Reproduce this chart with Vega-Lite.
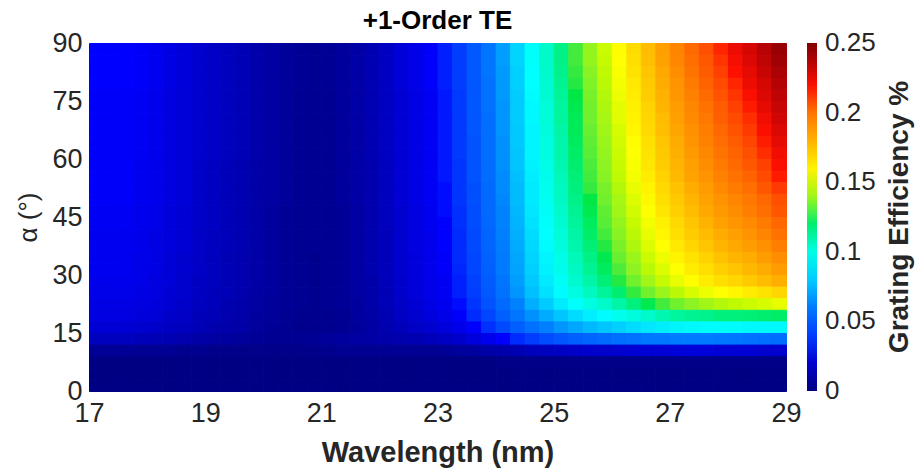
{
"$schema": "https://vega.github.io/schema/vega-lite/v6.json",
"width": 697, "height": 348,
"autosize": {"type": "none"},
"padding": {"left": 89, "top": 43, "right": 130, "bottom": 85},
"background": "white",
"title": {"text": "+1-Order TE", "font": "Liberation Sans", "fontSize": 26, "fontWeight": "bold", "color": "#000000", "offset": -5, "anchor": "middle"},
"config": {
  "view": {"stroke": null},
  "axis": {"labelFont": "Liberation Sans", "labelFontSize": 27, "labelColor": "#262626", "titleFont": "Liberation Sans", "titleFontSize": 29, "titleFontWeight": "bold", "titleColor": "#262626", "ticks": false, "domain": false, "grid": false, "labelFlush": false, "labelOverlap": false}
},
"data": {"values": [
{"w":17.125,"a":88.5,"e":0.031},{"w":17.375,"a":88.5,"e":0.031},{"w":17.625,"a":88.5,"e":0.031},{"w":17.875,"a":88.5,"e":0.030},{"w":18.125,"a":88.5,"e":0.028},{"w":18.375,"a":88.5,"e":0.025},{"w":18.625,"a":88.5,"e":0.023},{"w":18.875,"a":88.5,"e":0.020},{"w":19.125,"a":88.5,"e":0.018},{"w":19.375,"a":88.5,"e":0.016},{"w":19.625,"a":88.5,"e":0.014},{"w":19.875,"a":88.5,"e":0.011},{"w":20.125,"a":88.5,"e":0.009},{"w":20.375,"a":88.5,"e":0.007},{"w":20.625,"a":88.5,"e":0.006},{"w":20.875,"a":88.5,"e":0.005},{"w":21.125,"a":88.5,"e":0.006},{"w":21.375,"a":88.5,"e":0.007},{"w":21.625,"a":88.5,"e":0.010},{"w":21.875,"a":88.5,"e":0.013},{"w":22.125,"a":88.5,"e":0.017},{"w":22.375,"a":88.5,"e":0.022},{"w":22.625,"a":88.5,"e":0.026},{"w":22.875,"a":88.5,"e":0.030},
{"w":23.125,"a":88.5,"e":0.034},{"w":23.375,"a":88.5,"e":0.040},{"w":23.625,"a":88.5,"e":0.048},{"w":23.875,"a":88.5,"e":0.058},{"w":24.125,"a":88.5,"e":0.069},{"w":24.375,"a":88.5,"e":0.082},{"w":24.625,"a":88.5,"e":0.095},{"w":24.875,"a":88.5,"e":0.106},{"w":25.125,"a":88.5,"e":0.117},{"w":25.375,"a":88.5,"e":0.128},{"w":25.625,"a":88.5,"e":0.138},{"w":25.875,"a":88.5,"e":0.147},{"w":26.125,"a":88.5,"e":0.157},{"w":26.375,"a":88.5,"e":0.167},{"w":26.625,"a":88.5,"e":0.177},{"w":26.875,"a":88.5,"e":0.186},{"w":27.125,"a":88.5,"e":0.195},{"w":27.375,"a":88.5,"e":0.203},{"w":27.625,"a":88.5,"e":0.210},{"w":27.875,"a":88.5,"e":0.217},{"w":28.125,"a":88.5,"e":0.223},{"w":28.375,"a":88.5,"e":0.229},{"w":28.625,"a":88.5,"e":0.236},{"w":28.875,"a":88.5,"e":0.244},
{"w":17.125,"a":85.5,"e":0.031},{"w":17.375,"a":85.5,"e":0.031},{"w":17.625,"a":85.5,"e":0.031},{"w":17.875,"a":85.5,"e":0.030},{"w":18.125,"a":85.5,"e":0.028},{"w":18.375,"a":85.5,"e":0.025},{"w":18.625,"a":85.5,"e":0.023},{"w":18.875,"a":85.5,"e":0.020},{"w":19.125,"a":85.5,"e":0.018},{"w":19.375,"a":85.5,"e":0.016},{"w":19.625,"a":85.5,"e":0.014},{"w":19.875,"a":85.5,"e":0.011},{"w":20.125,"a":85.5,"e":0.009},{"w":20.375,"a":85.5,"e":0.007},{"w":20.625,"a":85.5,"e":0.006},{"w":20.875,"a":85.5,"e":0.005},{"w":21.125,"a":85.5,"e":0.006},{"w":21.375,"a":85.5,"e":0.007},{"w":21.625,"a":85.5,"e":0.010},{"w":21.875,"a":85.5,"e":0.013},{"w":22.125,"a":85.5,"e":0.017},{"w":22.375,"a":85.5,"e":0.022},{"w":22.625,"a":85.5,"e":0.026},{"w":22.875,"a":85.5,"e":0.030},
{"w":23.125,"a":85.5,"e":0.034},{"w":23.375,"a":85.5,"e":0.040},{"w":23.625,"a":85.5,"e":0.048},{"w":23.875,"a":85.5,"e":0.058},{"w":24.125,"a":85.5,"e":0.069},{"w":24.375,"a":85.5,"e":0.082},{"w":24.625,"a":85.5,"e":0.095},{"w":24.875,"a":85.5,"e":0.106},{"w":25.125,"a":85.5,"e":0.117},{"w":25.375,"a":85.5,"e":0.128},{"w":25.625,"a":85.5,"e":0.138},{"w":25.875,"a":85.5,"e":0.146},{"w":26.125,"a":85.5,"e":0.156},{"w":26.375,"a":85.5,"e":0.166},{"w":26.625,"a":85.5,"e":0.176},{"w":26.875,"a":85.5,"e":0.185},{"w":27.125,"a":85.5,"e":0.194},{"w":27.375,"a":85.5,"e":0.202},{"w":27.625,"a":85.5,"e":0.208},{"w":27.875,"a":85.5,"e":0.215},{"w":28.125,"a":85.5,"e":0.221},{"w":28.375,"a":85.5,"e":0.227},{"w":28.625,"a":85.5,"e":0.234},{"w":28.875,"a":85.5,"e":0.242},
{"w":17.125,"a":82.5,"e":0.031},{"w":17.375,"a":82.5,"e":0.031},{"w":17.625,"a":82.5,"e":0.031},{"w":17.875,"a":82.5,"e":0.030},{"w":18.125,"a":82.5,"e":0.028},{"w":18.375,"a":82.5,"e":0.025},{"w":18.625,"a":82.5,"e":0.023},{"w":18.875,"a":82.5,"e":0.020},{"w":19.125,"a":82.5,"e":0.018},{"w":19.375,"a":82.5,"e":0.016},{"w":19.625,"a":82.5,"e":0.014},{"w":19.875,"a":82.5,"e":0.011},{"w":20.125,"a":82.5,"e":0.009},{"w":20.375,"a":82.5,"e":0.007},{"w":20.625,"a":82.5,"e":0.006},{"w":20.875,"a":82.5,"e":0.005},{"w":21.125,"a":82.5,"e":0.006},{"w":21.375,"a":82.5,"e":0.007},{"w":21.625,"a":82.5,"e":0.010},{"w":21.875,"a":82.5,"e":0.013},{"w":22.125,"a":82.5,"e":0.017},{"w":22.375,"a":82.5,"e":0.022},{"w":22.625,"a":82.5,"e":0.026},{"w":22.875,"a":82.5,"e":0.030},
{"w":23.125,"a":82.5,"e":0.034},{"w":23.375,"a":82.5,"e":0.040},{"w":23.625,"a":82.5,"e":0.048},{"w":23.875,"a":82.5,"e":0.058},{"w":24.125,"a":82.5,"e":0.068},{"w":24.375,"a":82.5,"e":0.081},{"w":24.625,"a":82.5,"e":0.094},{"w":24.875,"a":82.5,"e":0.105},{"w":25.125,"a":82.5,"e":0.116},{"w":25.375,"a":82.5,"e":0.127},{"w":25.625,"a":82.5,"e":0.136},{"w":25.875,"a":82.5,"e":0.145},{"w":26.125,"a":82.5,"e":0.155},{"w":26.375,"a":82.5,"e":0.165},{"w":26.625,"a":82.5,"e":0.174},{"w":26.875,"a":82.5,"e":0.183},{"w":27.125,"a":82.5,"e":0.192},{"w":27.375,"a":82.5,"e":0.200},{"w":27.625,"a":82.5,"e":0.207},{"w":27.875,"a":82.5,"e":0.213},{"w":28.125,"a":82.5,"e":0.219},{"w":28.375,"a":82.5,"e":0.225},{"w":28.625,"a":82.5,"e":0.232},{"w":28.875,"a":82.5,"e":0.239},
{"w":17.125,"a":79.5,"e":0.031},{"w":17.375,"a":79.5,"e":0.031},{"w":17.625,"a":79.5,"e":0.031},{"w":17.875,"a":79.5,"e":0.030},{"w":18.125,"a":79.5,"e":0.028},{"w":18.375,"a":79.5,"e":0.025},{"w":18.625,"a":79.5,"e":0.023},{"w":18.875,"a":79.5,"e":0.020},{"w":19.125,"a":79.5,"e":0.018},{"w":19.375,"a":79.5,"e":0.016},{"w":19.625,"a":79.5,"e":0.014},{"w":19.875,"a":79.5,"e":0.011},{"w":20.125,"a":79.5,"e":0.009},{"w":20.375,"a":79.5,"e":0.007},{"w":20.625,"a":79.5,"e":0.006},{"w":20.875,"a":79.5,"e":0.005},{"w":21.125,"a":79.5,"e":0.006},{"w":21.375,"a":79.5,"e":0.007},{"w":21.625,"a":79.5,"e":0.010},{"w":21.875,"a":79.5,"e":0.013},{"w":22.125,"a":79.5,"e":0.017},{"w":22.375,"a":79.5,"e":0.022},{"w":22.625,"a":79.5,"e":0.026},{"w":22.875,"a":79.5,"e":0.030},
{"w":23.125,"a":79.5,"e":0.034},{"w":23.375,"a":79.5,"e":0.040},{"w":23.625,"a":79.5,"e":0.047},{"w":23.875,"a":79.5,"e":0.057},{"w":24.125,"a":79.5,"e":0.068},{"w":24.375,"a":79.5,"e":0.081},{"w":24.625,"a":79.5,"e":0.094},{"w":24.875,"a":79.5,"e":0.104},{"w":25.125,"a":79.5,"e":0.115},{"w":25.375,"a":79.5,"e":0.126},{"w":25.625,"a":79.5,"e":0.135},{"w":25.875,"a":79.5,"e":0.144},{"w":26.125,"a":79.5,"e":0.154},{"w":26.375,"a":79.5,"e":0.163},{"w":26.625,"a":79.5,"e":0.173},{"w":26.875,"a":79.5,"e":0.182},{"w":27.125,"a":79.5,"e":0.190},{"w":27.375,"a":79.5,"e":0.198},{"w":27.625,"a":79.5,"e":0.205},{"w":27.875,"a":79.5,"e":0.211},{"w":28.125,"a":79.5,"e":0.217},{"w":28.375,"a":79.5,"e":0.223},{"w":28.625,"a":79.5,"e":0.229},{"w":28.875,"a":79.5,"e":0.237},
{"w":17.125,"a":76.5,"e":0.030},{"w":17.375,"a":76.5,"e":0.030},{"w":17.625,"a":76.5,"e":0.030},{"w":17.875,"a":76.5,"e":0.029},{"w":18.125,"a":76.5,"e":0.027},{"w":18.375,"a":76.5,"e":0.024},{"w":18.625,"a":76.5,"e":0.022},{"w":18.875,"a":76.5,"e":0.020},{"w":19.125,"a":76.5,"e":0.018},{"w":19.375,"a":76.5,"e":0.016},{"w":19.625,"a":76.5,"e":0.014},{"w":19.875,"a":76.5,"e":0.011},{"w":20.125,"a":76.5,"e":0.009},{"w":20.375,"a":76.5,"e":0.007},{"w":20.625,"a":76.5,"e":0.005},{"w":20.875,"a":76.5,"e":0.005},{"w":21.125,"a":76.5,"e":0.005},{"w":21.375,"a":76.5,"e":0.007},{"w":21.625,"a":76.5,"e":0.010},{"w":21.875,"a":76.5,"e":0.013},{"w":22.125,"a":76.5,"e":0.017},{"w":22.375,"a":76.5,"e":0.021},{"w":22.625,"a":76.5,"e":0.025},{"w":22.875,"a":76.5,"e":0.029},
{"w":23.125,"a":76.5,"e":0.033},{"w":23.375,"a":76.5,"e":0.039},{"w":23.625,"a":76.5,"e":0.047},{"w":23.875,"a":76.5,"e":0.057},{"w":24.125,"a":76.5,"e":0.068},{"w":24.375,"a":76.5,"e":0.080},{"w":24.625,"a":76.5,"e":0.093},{"w":24.875,"a":76.5,"e":0.104},{"w":25.125,"a":76.5,"e":0.114},{"w":25.375,"a":76.5,"e":0.125},{"w":25.625,"a":76.5,"e":0.134},{"w":25.875,"a":76.5,"e":0.143},{"w":26.125,"a":76.5,"e":0.153},{"w":26.375,"a":76.5,"e":0.162},{"w":26.625,"a":76.5,"e":0.172},{"w":26.875,"a":76.5,"e":0.180},{"w":27.125,"a":76.5,"e":0.189},{"w":27.375,"a":76.5,"e":0.196},{"w":27.625,"a":76.5,"e":0.203},{"w":27.875,"a":76.5,"e":0.209},{"w":28.125,"a":76.5,"e":0.215},{"w":28.375,"a":76.5,"e":0.220},{"w":28.625,"a":76.5,"e":0.227},{"w":28.875,"a":76.5,"e":0.234},
{"w":17.125,"a":73.5,"e":0.030},{"w":17.375,"a":73.5,"e":0.030},{"w":17.625,"a":73.5,"e":0.030},{"w":17.875,"a":73.5,"e":0.029},{"w":18.125,"a":73.5,"e":0.027},{"w":18.375,"a":73.5,"e":0.024},{"w":18.625,"a":73.5,"e":0.022},{"w":18.875,"a":73.5,"e":0.020},{"w":19.125,"a":73.5,"e":0.018},{"w":19.375,"a":73.5,"e":0.016},{"w":19.625,"a":73.5,"e":0.014},{"w":19.875,"a":73.5,"e":0.011},{"w":20.125,"a":73.5,"e":0.009},{"w":20.375,"a":73.5,"e":0.007},{"w":20.625,"a":73.5,"e":0.005},{"w":20.875,"a":73.5,"e":0.005},{"w":21.125,"a":73.5,"e":0.005},{"w":21.375,"a":73.5,"e":0.007},{"w":21.625,"a":73.5,"e":0.010},{"w":21.875,"a":73.5,"e":0.013},{"w":22.125,"a":73.5,"e":0.017},{"w":22.375,"a":73.5,"e":0.021},{"w":22.625,"a":73.5,"e":0.025},{"w":22.875,"a":73.5,"e":0.029},
{"w":23.125,"a":73.5,"e":0.033},{"w":23.375,"a":73.5,"e":0.039},{"w":23.625,"a":73.5,"e":0.047},{"w":23.875,"a":73.5,"e":0.057},{"w":24.125,"a":73.5,"e":0.067},{"w":24.375,"a":73.5,"e":0.080},{"w":24.625,"a":73.5,"e":0.092},{"w":24.875,"a":73.5,"e":0.103},{"w":25.125,"a":73.5,"e":0.113},{"w":25.375,"a":73.5,"e":0.124},{"w":25.625,"a":73.5,"e":0.133},{"w":25.875,"a":73.5,"e":0.142},{"w":26.125,"a":73.5,"e":0.151},{"w":26.375,"a":73.5,"e":0.161},{"w":26.625,"a":73.5,"e":0.170},{"w":26.875,"a":73.5,"e":0.179},{"w":27.125,"a":73.5,"e":0.187},{"w":27.375,"a":73.5,"e":0.194},{"w":27.625,"a":73.5,"e":0.201},{"w":27.875,"a":73.5,"e":0.207},{"w":28.125,"a":73.5,"e":0.213},{"w":28.375,"a":73.5,"e":0.218},{"w":28.625,"a":73.5,"e":0.225},{"w":28.875,"a":73.5,"e":0.232},
{"w":17.125,"a":70.5,"e":0.030},{"w":17.375,"a":70.5,"e":0.030},{"w":17.625,"a":70.5,"e":0.030},{"w":17.875,"a":70.5,"e":0.029},{"w":18.125,"a":70.5,"e":0.027},{"w":18.375,"a":70.5,"e":0.024},{"w":18.625,"a":70.5,"e":0.022},{"w":18.875,"a":70.5,"e":0.020},{"w":19.125,"a":70.5,"e":0.018},{"w":19.375,"a":70.5,"e":0.016},{"w":19.625,"a":70.5,"e":0.014},{"w":19.875,"a":70.5,"e":0.011},{"w":20.125,"a":70.5,"e":0.009},{"w":20.375,"a":70.5,"e":0.007},{"w":20.625,"a":70.5,"e":0.005},{"w":20.875,"a":70.5,"e":0.005},{"w":21.125,"a":70.5,"e":0.005},{"w":21.375,"a":70.5,"e":0.007},{"w":21.625,"a":70.5,"e":0.010},{"w":21.875,"a":70.5,"e":0.013},{"w":22.125,"a":70.5,"e":0.017},{"w":22.375,"a":70.5,"e":0.021},{"w":22.625,"a":70.5,"e":0.025},{"w":22.875,"a":70.5,"e":0.029},
{"w":23.125,"a":70.5,"e":0.033},{"w":23.375,"a":70.5,"e":0.039},{"w":23.625,"a":70.5,"e":0.047},{"w":23.875,"a":70.5,"e":0.056},{"w":24.125,"a":70.5,"e":0.067},{"w":24.375,"a":70.5,"e":0.080},{"w":24.625,"a":70.5,"e":0.092},{"w":24.875,"a":70.5,"e":0.103},{"w":25.125,"a":70.5,"e":0.113},{"w":25.375,"a":70.5,"e":0.123},{"w":25.625,"a":70.5,"e":0.133},{"w":25.875,"a":70.5,"e":0.141},{"w":26.125,"a":70.5,"e":0.151},{"w":26.375,"a":70.5,"e":0.160},{"w":26.625,"a":70.5,"e":0.169},{"w":26.875,"a":70.5,"e":0.177},{"w":27.125,"a":70.5,"e":0.186},{"w":27.375,"a":70.5,"e":0.193},{"w":27.625,"a":70.5,"e":0.199},{"w":27.875,"a":70.5,"e":0.206},{"w":28.125,"a":70.5,"e":0.211},{"w":28.375,"a":70.5,"e":0.216},{"w":28.625,"a":70.5,"e":0.222},{"w":28.875,"a":70.5,"e":0.230},
{"w":17.125,"a":67.5,"e":0.030},{"w":17.375,"a":67.5,"e":0.030},{"w":17.625,"a":67.5,"e":0.030},{"w":17.875,"a":67.5,"e":0.029},{"w":18.125,"a":67.5,"e":0.027},{"w":18.375,"a":67.5,"e":0.024},{"w":18.625,"a":67.5,"e":0.022},{"w":18.875,"a":67.5,"e":0.020},{"w":19.125,"a":67.5,"e":0.018},{"w":19.375,"a":67.5,"e":0.016},{"w":19.625,"a":67.5,"e":0.014},{"w":19.875,"a":67.5,"e":0.011},{"w":20.125,"a":67.5,"e":0.009},{"w":20.375,"a":67.5,"e":0.007},{"w":20.625,"a":67.5,"e":0.005},{"w":20.875,"a":67.5,"e":0.005},{"w":21.125,"a":67.5,"e":0.005},{"w":21.375,"a":67.5,"e":0.007},{"w":21.625,"a":67.5,"e":0.010},{"w":21.875,"a":67.5,"e":0.013},{"w":22.125,"a":67.5,"e":0.017},{"w":22.375,"a":67.5,"e":0.021},{"w":22.625,"a":67.5,"e":0.025},{"w":22.875,"a":67.5,"e":0.029},
{"w":23.125,"a":67.5,"e":0.033},{"w":23.375,"a":67.5,"e":0.039},{"w":23.625,"a":67.5,"e":0.047},{"w":23.875,"a":67.5,"e":0.056},{"w":24.125,"a":67.5,"e":0.067},{"w":24.375,"a":67.5,"e":0.079},{"w":24.625,"a":67.5,"e":0.091},{"w":24.875,"a":67.5,"e":0.102},{"w":25.125,"a":67.5,"e":0.112},{"w":25.375,"a":67.5,"e":0.123},{"w":25.625,"a":67.5,"e":0.132},{"w":25.875,"a":67.5,"e":0.140},{"w":26.125,"a":67.5,"e":0.149},{"w":26.375,"a":67.5,"e":0.159},{"w":26.625,"a":67.5,"e":0.168},{"w":26.875,"a":67.5,"e":0.176},{"w":27.125,"a":67.5,"e":0.184},{"w":27.375,"a":67.5,"e":0.191},{"w":27.625,"a":67.5,"e":0.197},{"w":27.875,"a":67.5,"e":0.204},{"w":28.125,"a":67.5,"e":0.209},{"w":28.375,"a":67.5,"e":0.214},{"w":28.625,"a":67.5,"e":0.220},{"w":28.875,"a":67.5,"e":0.227},
{"w":17.125,"a":64.5,"e":0.030},{"w":17.375,"a":64.5,"e":0.030},{"w":17.625,"a":64.5,"e":0.030},{"w":17.875,"a":64.5,"e":0.029},{"w":18.125,"a":64.5,"e":0.027},{"w":18.375,"a":64.5,"e":0.024},{"w":18.625,"a":64.5,"e":0.022},{"w":18.875,"a":64.5,"e":0.020},{"w":19.125,"a":64.5,"e":0.018},{"w":19.375,"a":64.5,"e":0.016},{"w":19.625,"a":64.5,"e":0.014},{"w":19.875,"a":64.5,"e":0.011},{"w":20.125,"a":64.5,"e":0.009},{"w":20.375,"a":64.5,"e":0.007},{"w":20.625,"a":64.5,"e":0.005},{"w":20.875,"a":64.5,"e":0.005},{"w":21.125,"a":64.5,"e":0.005},{"w":21.375,"a":64.5,"e":0.007},{"w":21.625,"a":64.5,"e":0.010},{"w":21.875,"a":64.5,"e":0.013},{"w":22.125,"a":64.5,"e":0.017},{"w":22.375,"a":64.5,"e":0.021},{"w":22.625,"a":64.5,"e":0.025},{"w":22.875,"a":64.5,"e":0.029},
{"w":23.125,"a":64.5,"e":0.033},{"w":23.375,"a":64.5,"e":0.039},{"w":23.625,"a":64.5,"e":0.046},{"w":23.875,"a":64.5,"e":0.056},{"w":24.125,"a":64.5,"e":0.066},{"w":24.375,"a":64.5,"e":0.079},{"w":24.625,"a":64.5,"e":0.091},{"w":24.875,"a":64.5,"e":0.101},{"w":25.125,"a":64.5,"e":0.111},{"w":25.375,"a":64.5,"e":0.122},{"w":25.625,"a":64.5,"e":0.131},{"w":25.875,"a":64.5,"e":0.139},{"w":26.125,"a":64.5,"e":0.148},{"w":26.375,"a":64.5,"e":0.157},{"w":26.625,"a":64.5,"e":0.166},{"w":26.875,"a":64.5,"e":0.174},{"w":27.125,"a":64.5,"e":0.182},{"w":27.375,"a":64.5,"e":0.190},{"w":27.625,"a":64.5,"e":0.196},{"w":27.875,"a":64.5,"e":0.202},{"w":28.125,"a":64.5,"e":0.207},{"w":28.375,"a":64.5,"e":0.212},{"w":28.625,"a":64.5,"e":0.218},{"w":28.875,"a":64.5,"e":0.225},
{"w":17.125,"a":61.5,"e":0.030},{"w":17.375,"a":61.5,"e":0.030},{"w":17.625,"a":61.5,"e":0.030},{"w":17.875,"a":61.5,"e":0.029},{"w":18.125,"a":61.5,"e":0.027},{"w":18.375,"a":61.5,"e":0.024},{"w":18.625,"a":61.5,"e":0.022},{"w":18.875,"a":61.5,"e":0.020},{"w":19.125,"a":61.5,"e":0.018},{"w":19.375,"a":61.5,"e":0.016},{"w":19.625,"a":61.5,"e":0.014},{"w":19.875,"a":61.5,"e":0.011},{"w":20.125,"a":61.5,"e":0.009},{"w":20.375,"a":61.5,"e":0.007},{"w":20.625,"a":61.5,"e":0.005},{"w":20.875,"a":61.5,"e":0.005},{"w":21.125,"a":61.5,"e":0.005},{"w":21.375,"a":61.5,"e":0.007},{"w":21.625,"a":61.5,"e":0.010},{"w":21.875,"a":61.5,"e":0.013},{"w":22.125,"a":61.5,"e":0.017},{"w":22.375,"a":61.5,"e":0.021},{"w":22.625,"a":61.5,"e":0.025},{"w":22.875,"a":61.5,"e":0.029},
{"w":23.125,"a":61.5,"e":0.033},{"w":23.375,"a":61.5,"e":0.039},{"w":23.625,"a":61.5,"e":0.046},{"w":23.875,"a":61.5,"e":0.056},{"w":24.125,"a":61.5,"e":0.066},{"w":24.375,"a":61.5,"e":0.078},{"w":24.625,"a":61.5,"e":0.091},{"w":24.875,"a":61.5,"e":0.101},{"w":25.125,"a":61.5,"e":0.111},{"w":25.375,"a":61.5,"e":0.121},{"w":25.625,"a":61.5,"e":0.130},{"w":25.875,"a":61.5,"e":0.138},{"w":26.125,"a":61.5,"e":0.147},{"w":26.375,"a":61.5,"e":0.156},{"w":26.625,"a":61.5,"e":0.165},{"w":26.875,"a":61.5,"e":0.173},{"w":27.125,"a":61.5,"e":0.181},{"w":27.375,"a":61.5,"e":0.188},{"w":27.625,"a":61.5,"e":0.194},{"w":27.875,"a":61.5,"e":0.200},{"w":28.125,"a":61.5,"e":0.205},{"w":28.375,"a":61.5,"e":0.210},{"w":28.625,"a":61.5,"e":0.216},{"w":28.875,"a":61.5,"e":0.222},
{"w":17.125,"a":58.5,"e":0.030},{"w":17.375,"a":58.5,"e":0.030},{"w":17.625,"a":58.5,"e":0.030},{"w":17.875,"a":58.5,"e":0.028},{"w":18.125,"a":58.5,"e":0.027},{"w":18.375,"a":58.5,"e":0.024},{"w":18.625,"a":58.5,"e":0.022},{"w":18.875,"a":58.5,"e":0.019},{"w":19.125,"a":58.5,"e":0.017},{"w":19.375,"a":58.5,"e":0.015},{"w":19.625,"a":58.5,"e":0.013},{"w":19.875,"a":58.5,"e":0.010},{"w":20.125,"a":58.5,"e":0.009},{"w":20.375,"a":58.5,"e":0.007},{"w":20.625,"a":58.5,"e":0.005},{"w":20.875,"a":58.5,"e":0.005},{"w":21.125,"a":58.5,"e":0.005},{"w":21.375,"a":58.5,"e":0.007},{"w":21.625,"a":58.5,"e":0.010},{"w":21.875,"a":58.5,"e":0.012},{"w":22.125,"a":58.5,"e":0.016},{"w":22.375,"a":58.5,"e":0.021},{"w":22.625,"a":58.5,"e":0.025},{"w":22.875,"a":58.5,"e":0.029},
{"w":23.125,"a":58.5,"e":0.033},{"w":23.375,"a":58.5,"e":0.038},{"w":23.625,"a":58.5,"e":0.046},{"w":23.875,"a":58.5,"e":0.055},{"w":24.125,"a":58.5,"e":0.066},{"w":24.375,"a":58.5,"e":0.078},{"w":24.625,"a":58.5,"e":0.090},{"w":24.875,"a":58.5,"e":0.100},{"w":25.125,"a":58.5,"e":0.110},{"w":25.375,"a":58.5,"e":0.120},{"w":25.625,"a":58.5,"e":0.129},{"w":25.875,"a":58.5,"e":0.137},{"w":26.125,"a":58.5,"e":0.146},{"w":26.375,"a":58.5,"e":0.155},{"w":26.625,"a":58.5,"e":0.164},{"w":26.875,"a":58.5,"e":0.172},{"w":27.125,"a":58.5,"e":0.179},{"w":27.375,"a":58.5,"e":0.186},{"w":27.625,"a":58.5,"e":0.192},{"w":27.875,"a":58.5,"e":0.198},{"w":28.125,"a":58.5,"e":0.203},{"w":28.375,"a":58.5,"e":0.208},{"w":28.625,"a":58.5,"e":0.213},{"w":28.875,"a":58.5,"e":0.220},
{"w":17.125,"a":55.5,"e":0.030},{"w":17.375,"a":55.5,"e":0.030},{"w":17.625,"a":55.5,"e":0.030},{"w":17.875,"a":55.5,"e":0.028},{"w":18.125,"a":55.5,"e":0.027},{"w":18.375,"a":55.5,"e":0.024},{"w":18.625,"a":55.5,"e":0.022},{"w":18.875,"a":55.5,"e":0.019},{"w":19.125,"a":55.5,"e":0.017},{"w":19.375,"a":55.5,"e":0.015},{"w":19.625,"a":55.5,"e":0.013},{"w":19.875,"a":55.5,"e":0.010},{"w":20.125,"a":55.5,"e":0.009},{"w":20.375,"a":55.5,"e":0.007},{"w":20.625,"a":55.5,"e":0.005},{"w":20.875,"a":55.5,"e":0.005},{"w":21.125,"a":55.5,"e":0.005},{"w":21.375,"a":55.5,"e":0.007},{"w":21.625,"a":55.5,"e":0.010},{"w":21.875,"a":55.5,"e":0.012},{"w":22.125,"a":55.5,"e":0.016},{"w":22.375,"a":55.5,"e":0.021},{"w":22.625,"a":55.5,"e":0.025},{"w":22.875,"a":55.5,"e":0.029},
{"w":23.125,"a":55.5,"e":0.033},{"w":23.375,"a":55.5,"e":0.038},{"w":23.625,"a":55.5,"e":0.046},{"w":23.875,"a":55.5,"e":0.055},{"w":24.125,"a":55.5,"e":0.065},{"w":24.375,"a":55.5,"e":0.077},{"w":24.625,"a":55.5,"e":0.089},{"w":24.875,"a":55.5,"e":0.099},{"w":25.125,"a":55.5,"e":0.109},{"w":25.375,"a":55.5,"e":0.119},{"w":25.625,"a":55.5,"e":0.128},{"w":25.875,"a":55.5,"e":0.136},{"w":26.125,"a":55.5,"e":0.145},{"w":26.375,"a":55.5,"e":0.154},{"w":26.625,"a":55.5,"e":0.162},{"w":26.875,"a":55.5,"e":0.170},{"w":27.125,"a":55.5,"e":0.178},{"w":27.375,"a":55.5,"e":0.185},{"w":27.625,"a":55.5,"e":0.190},{"w":27.875,"a":55.5,"e":0.196},{"w":28.125,"a":55.5,"e":0.201},{"w":28.375,"a":55.5,"e":0.205},{"w":28.625,"a":55.5,"e":0.211},{"w":28.875,"a":55.5,"e":0.218},
{"w":17.125,"a":52.5,"e":0.030},{"w":17.375,"a":52.5,"e":0.030},{"w":17.625,"a":52.5,"e":0.030},{"w":17.875,"a":52.5,"e":0.028},{"w":18.125,"a":52.5,"e":0.027},{"w":18.375,"a":52.5,"e":0.024},{"w":18.625,"a":52.5,"e":0.022},{"w":18.875,"a":52.5,"e":0.019},{"w":19.125,"a":52.5,"e":0.017},{"w":19.375,"a":52.5,"e":0.015},{"w":19.625,"a":52.5,"e":0.013},{"w":19.875,"a":52.5,"e":0.010},{"w":20.125,"a":52.5,"e":0.009},{"w":20.375,"a":52.5,"e":0.007},{"w":20.625,"a":52.5,"e":0.005},{"w":20.875,"a":52.5,"e":0.005},{"w":21.125,"a":52.5,"e":0.005},{"w":21.375,"a":52.5,"e":0.007},{"w":21.625,"a":52.5,"e":0.010},{"w":21.875,"a":52.5,"e":0.012},{"w":22.125,"a":52.5,"e":0.016},{"w":22.375,"a":52.5,"e":0.021},{"w":22.625,"a":52.5,"e":0.025},{"w":22.875,"a":52.5,"e":0.029},
{"w":23.125,"a":52.5,"e":0.032},{"w":23.375,"a":52.5,"e":0.038},{"w":23.625,"a":52.5,"e":0.045},{"w":23.875,"a":52.5,"e":0.054},{"w":24.125,"a":52.5,"e":0.065},{"w":24.375,"a":52.5,"e":0.076},{"w":24.625,"a":52.5,"e":0.088},{"w":24.875,"a":52.5,"e":0.098},{"w":25.125,"a":52.5,"e":0.108},{"w":25.375,"a":52.5,"e":0.118},{"w":25.625,"a":52.5,"e":0.127},{"w":25.875,"a":52.5,"e":0.134},{"w":26.125,"a":52.5,"e":0.143},{"w":26.375,"a":52.5,"e":0.152},{"w":26.625,"a":52.5,"e":0.160},{"w":26.875,"a":52.5,"e":0.168},{"w":27.125,"a":52.5,"e":0.175},{"w":27.375,"a":52.5,"e":0.182},{"w":27.625,"a":52.5,"e":0.187},{"w":27.875,"a":52.5,"e":0.193},{"w":28.125,"a":52.5,"e":0.198},{"w":28.375,"a":52.5,"e":0.202},{"w":28.625,"a":52.5,"e":0.208},{"w":28.875,"a":52.5,"e":0.214},
{"w":17.125,"a":49.5,"e":0.030},{"w":17.375,"a":49.5,"e":0.030},{"w":17.625,"a":49.5,"e":0.030},{"w":17.875,"a":49.5,"e":0.028},{"w":18.125,"a":49.5,"e":0.027},{"w":18.375,"a":49.5,"e":0.024},{"w":18.625,"a":49.5,"e":0.022},{"w":18.875,"a":49.5,"e":0.019},{"w":19.125,"a":49.5,"e":0.017},{"w":19.375,"a":49.5,"e":0.015},{"w":19.625,"a":49.5,"e":0.013},{"w":19.875,"a":49.5,"e":0.010},{"w":20.125,"a":49.5,"e":0.009},{"w":20.375,"a":49.5,"e":0.007},{"w":20.625,"a":49.5,"e":0.005},{"w":20.875,"a":49.5,"e":0.005},{"w":21.125,"a":49.5,"e":0.005},{"w":21.375,"a":49.5,"e":0.007},{"w":21.625,"a":49.5,"e":0.010},{"w":21.875,"a":49.5,"e":0.012},{"w":22.125,"a":49.5,"e":0.016},{"w":22.375,"a":49.5,"e":0.021},{"w":22.625,"a":49.5,"e":0.025},{"w":22.875,"a":49.5,"e":0.029},
{"w":23.125,"a":49.5,"e":0.032},{"w":23.375,"a":49.5,"e":0.038},{"w":23.625,"a":49.5,"e":0.045},{"w":23.875,"a":49.5,"e":0.054},{"w":24.125,"a":49.5,"e":0.064},{"w":24.375,"a":49.5,"e":0.076},{"w":24.625,"a":49.5,"e":0.088},{"w":24.875,"a":49.5,"e":0.097},{"w":25.125,"a":49.5,"e":0.107},{"w":25.375,"a":49.5,"e":0.117},{"w":25.625,"a":49.5,"e":0.125},{"w":25.875,"a":49.5,"e":0.133},{"w":26.125,"a":49.5,"e":0.141},{"w":26.375,"a":49.5,"e":0.150},{"w":26.625,"a":49.5,"e":0.158},{"w":26.875,"a":49.5,"e":0.166},{"w":27.125,"a":49.5,"e":0.173},{"w":27.375,"a":49.5,"e":0.179},{"w":27.625,"a":49.5,"e":0.185},{"w":27.875,"a":49.5,"e":0.190},{"w":28.125,"a":49.5,"e":0.195},{"w":28.375,"a":49.5,"e":0.199},{"w":28.625,"a":49.5,"e":0.204},{"w":28.875,"a":49.5,"e":0.210},
{"w":17.125,"a":46.5,"e":0.029},{"w":17.375,"a":46.5,"e":0.029},{"w":17.625,"a":46.5,"e":0.029},{"w":17.875,"a":46.5,"e":0.027},{"w":18.125,"a":46.5,"e":0.026},{"w":18.375,"a":46.5,"e":0.023},{"w":18.625,"a":46.5,"e":0.021},{"w":18.875,"a":46.5,"e":0.019},{"w":19.125,"a":46.5,"e":0.017},{"w":19.375,"a":46.5,"e":0.015},{"w":19.625,"a":46.5,"e":0.013},{"w":19.875,"a":46.5,"e":0.010},{"w":20.125,"a":46.5,"e":0.008},{"w":20.375,"a":46.5,"e":0.006},{"w":20.625,"a":46.5,"e":0.005},{"w":20.875,"a":46.5,"e":0.005},{"w":21.125,"a":46.5,"e":0.005},{"w":21.375,"a":46.5,"e":0.006},{"w":21.625,"a":46.5,"e":0.009},{"w":21.875,"a":46.5,"e":0.012},{"w":22.125,"a":46.5,"e":0.016},{"w":22.375,"a":46.5,"e":0.020},{"w":22.625,"a":46.5,"e":0.024},{"w":22.875,"a":46.5,"e":0.028},
{"w":23.125,"a":46.5,"e":0.032},{"w":23.375,"a":46.5,"e":0.037},{"w":23.625,"a":46.5,"e":0.044},{"w":23.875,"a":46.5,"e":0.054},{"w":24.125,"a":46.5,"e":0.063},{"w":24.375,"a":46.5,"e":0.075},{"w":24.625,"a":46.5,"e":0.087},{"w":24.875,"a":46.5,"e":0.096},{"w":25.125,"a":46.5,"e":0.106},{"w":25.375,"a":46.5,"e":0.115},{"w":25.625,"a":46.5,"e":0.124},{"w":25.875,"a":46.5,"e":0.131},{"w":26.125,"a":46.5,"e":0.140},{"w":26.375,"a":46.5,"e":0.148},{"w":26.625,"a":46.5,"e":0.156},{"w":26.875,"a":46.5,"e":0.164},{"w":27.125,"a":46.5,"e":0.171},{"w":27.375,"a":46.5,"e":0.177},{"w":27.625,"a":46.5,"e":0.183},{"w":27.875,"a":46.5,"e":0.188},{"w":28.125,"a":46.5,"e":0.192},{"w":28.375,"a":46.5,"e":0.197},{"w":28.625,"a":46.5,"e":0.202},{"w":28.875,"a":46.5,"e":0.208},
{"w":17.125,"a":43.5,"e":0.029},{"w":17.375,"a":43.5,"e":0.029},{"w":17.625,"a":43.5,"e":0.029},{"w":17.875,"a":43.5,"e":0.027},{"w":18.125,"a":43.5,"e":0.026},{"w":18.375,"a":43.5,"e":0.023},{"w":18.625,"a":43.5,"e":0.021},{"w":18.875,"a":43.5,"e":0.019},{"w":19.125,"a":43.5,"e":0.017},{"w":19.375,"a":43.5,"e":0.015},{"w":19.625,"a":43.5,"e":0.013},{"w":19.875,"a":43.5,"e":0.010},{"w":20.125,"a":43.5,"e":0.008},{"w":20.375,"a":43.5,"e":0.006},{"w":20.625,"a":43.5,"e":0.005},{"w":20.875,"a":43.5,"e":0.005},{"w":21.125,"a":43.5,"e":0.005},{"w":21.375,"a":43.5,"e":0.006},{"w":21.625,"a":43.5,"e":0.009},{"w":21.875,"a":43.5,"e":0.012},{"w":22.125,"a":43.5,"e":0.016},{"w":22.375,"a":43.5,"e":0.020},{"w":22.625,"a":43.5,"e":0.024},{"w":22.875,"a":43.5,"e":0.028},
{"w":23.125,"a":43.5,"e":0.031},{"w":23.375,"a":43.5,"e":0.037},{"w":23.625,"a":43.5,"e":0.044},{"w":23.875,"a":43.5,"e":0.053},{"w":24.125,"a":43.5,"e":0.063},{"w":24.375,"a":43.5,"e":0.074},{"w":24.625,"a":43.5,"e":0.086},{"w":24.875,"a":43.5,"e":0.095},{"w":25.125,"a":43.5,"e":0.104},{"w":25.375,"a":43.5,"e":0.114},{"w":25.625,"a":43.5,"e":0.122},{"w":25.875,"a":43.5,"e":0.130},{"w":26.125,"a":43.5,"e":0.138},{"w":26.375,"a":43.5,"e":0.146},{"w":26.625,"a":43.5,"e":0.154},{"w":26.875,"a":43.5,"e":0.161},{"w":27.125,"a":43.5,"e":0.168},{"w":27.375,"a":43.5,"e":0.174},{"w":27.625,"a":43.5,"e":0.180},{"w":27.875,"a":43.5,"e":0.185},{"w":28.125,"a":43.5,"e":0.189},{"w":28.375,"a":43.5,"e":0.193},{"w":28.625,"a":43.5,"e":0.198},{"w":28.875,"a":43.5,"e":0.204},
{"w":17.125,"a":40.5,"e":0.028},{"w":17.375,"a":40.5,"e":0.028},{"w":17.625,"a":40.5,"e":0.028},{"w":17.875,"a":40.5,"e":0.027},{"w":18.125,"a":40.5,"e":0.025},{"w":18.375,"a":40.5,"e":0.023},{"w":18.625,"a":40.5,"e":0.021},{"w":18.875,"a":40.5,"e":0.018},{"w":19.125,"a":40.5,"e":0.016},{"w":19.375,"a":40.5,"e":0.015},{"w":19.625,"a":40.5,"e":0.013},{"w":19.875,"a":40.5,"e":0.010},{"w":20.125,"a":40.5,"e":0.008},{"w":20.375,"a":40.5,"e":0.006},{"w":20.625,"a":40.5,"e":0.005},{"w":20.875,"a":40.5,"e":0.005},{"w":21.125,"a":40.5,"e":0.005},{"w":21.375,"a":40.5,"e":0.006},{"w":21.625,"a":40.5,"e":0.009},{"w":21.875,"a":40.5,"e":0.012},{"w":22.125,"a":40.5,"e":0.015},{"w":22.375,"a":40.5,"e":0.020},{"w":22.625,"a":40.5,"e":0.024},{"w":22.875,"a":40.5,"e":0.027},
{"w":23.125,"a":40.5,"e":0.031},{"w":23.375,"a":40.5,"e":0.036},{"w":23.625,"a":40.5,"e":0.043},{"w":23.875,"a":40.5,"e":0.052},{"w":24.125,"a":40.5,"e":0.062},{"w":24.375,"a":40.5,"e":0.073},{"w":24.625,"a":40.5,"e":0.084},{"w":24.875,"a":40.5,"e":0.094},{"w":25.125,"a":40.5,"e":0.103},{"w":25.375,"a":40.5,"e":0.112},{"w":25.625,"a":40.5,"e":0.121},{"w":25.875,"a":40.5,"e":0.128},{"w":26.125,"a":40.5,"e":0.136},{"w":26.375,"a":40.5,"e":0.144},{"w":26.625,"a":40.5,"e":0.152},{"w":26.875,"a":40.5,"e":0.159},{"w":27.125,"a":40.5,"e":0.166},{"w":27.375,"a":40.5,"e":0.172},{"w":27.625,"a":40.5,"e":0.177},{"w":27.875,"a":40.5,"e":0.182},{"w":28.125,"a":40.5,"e":0.186},{"w":28.375,"a":40.5,"e":0.190},{"w":28.625,"a":40.5,"e":0.195},{"w":28.875,"a":40.5,"e":0.201},
{"w":17.125,"a":37.5,"e":0.028},{"w":17.375,"a":37.5,"e":0.028},{"w":17.625,"a":37.5,"e":0.028},{"w":17.875,"a":37.5,"e":0.027},{"w":18.125,"a":37.5,"e":0.025},{"w":18.375,"a":37.5,"e":0.023},{"w":18.625,"a":37.5,"e":0.021},{"w":18.875,"a":37.5,"e":0.018},{"w":19.125,"a":37.5,"e":0.016},{"w":19.375,"a":37.5,"e":0.015},{"w":19.625,"a":37.5,"e":0.013},{"w":19.875,"a":37.5,"e":0.010},{"w":20.125,"a":37.5,"e":0.008},{"w":20.375,"a":37.5,"e":0.006},{"w":20.625,"a":37.5,"e":0.005},{"w":20.875,"a":37.5,"e":0.005},{"w":21.125,"a":37.5,"e":0.005},{"w":21.375,"a":37.5,"e":0.006},{"w":21.625,"a":37.5,"e":0.009},{"w":21.875,"a":37.5,"e":0.012},{"w":22.125,"a":37.5,"e":0.015},{"w":22.375,"a":37.5,"e":0.020},{"w":22.625,"a":37.5,"e":0.024},{"w":22.875,"a":37.5,"e":0.027},
{"w":23.125,"a":37.5,"e":0.031},{"w":23.375,"a":37.5,"e":0.036},{"w":23.625,"a":37.5,"e":0.043},{"w":23.875,"a":37.5,"e":0.052},{"w":24.125,"a":37.5,"e":0.061},{"w":24.375,"a":37.5,"e":0.072},{"w":24.625,"a":37.5,"e":0.083},{"w":24.875,"a":37.5,"e":0.093},{"w":25.125,"a":37.5,"e":0.102},{"w":25.375,"a":37.5,"e":0.111},{"w":25.625,"a":37.5,"e":0.119},{"w":25.875,"a":37.5,"e":0.126},{"w":26.125,"a":37.5,"e":0.134},{"w":26.375,"a":37.5,"e":0.142},{"w":26.625,"a":37.5,"e":0.150},{"w":26.875,"a":37.5,"e":0.156},{"w":27.125,"a":37.5,"e":0.163},{"w":27.375,"a":37.5,"e":0.169},{"w":27.625,"a":37.5,"e":0.174},{"w":27.875,"a":37.5,"e":0.179},{"w":28.125,"a":37.5,"e":0.183},{"w":28.375,"a":37.5,"e":0.187},{"w":28.625,"a":37.5,"e":0.191},{"w":28.875,"a":37.5,"e":0.197},
{"w":17.125,"a":34.5,"e":0.028},{"w":17.375,"a":34.5,"e":0.028},{"w":17.625,"a":34.5,"e":0.028},{"w":17.875,"a":34.5,"e":0.026},{"w":18.125,"a":34.5,"e":0.025},{"w":18.375,"a":34.5,"e":0.022},{"w":18.625,"a":34.5,"e":0.020},{"w":18.875,"a":34.5,"e":0.018},{"w":19.125,"a":34.5,"e":0.016},{"w":19.375,"a":34.5,"e":0.014},{"w":19.625,"a":34.5,"e":0.012},{"w":19.875,"a":34.5,"e":0.010},{"w":20.125,"a":34.5,"e":0.008},{"w":20.375,"a":34.5,"e":0.006},{"w":20.625,"a":34.5,"e":0.005},{"w":20.875,"a":34.5,"e":0.004},{"w":21.125,"a":34.5,"e":0.005},{"w":21.375,"a":34.5,"e":0.006},{"w":21.625,"a":34.5,"e":0.009},{"w":21.875,"a":34.5,"e":0.012},{"w":22.125,"a":34.5,"e":0.015},{"w":22.375,"a":34.5,"e":0.020},{"w":22.625,"a":34.5,"e":0.023},{"w":22.875,"a":34.5,"e":0.027},
{"w":23.125,"a":34.5,"e":0.030},{"w":23.375,"a":34.5,"e":0.036},{"w":23.625,"a":34.5,"e":0.042},{"w":23.875,"a":34.5,"e":0.051},{"w":24.125,"a":34.5,"e":0.060},{"w":24.375,"a":34.5,"e":0.071},{"w":24.625,"a":34.5,"e":0.082},{"w":24.875,"a":34.5,"e":0.091},{"w":25.125,"a":34.5,"e":0.100},{"w":25.375,"a":34.5,"e":0.109},{"w":25.625,"a":34.5,"e":0.117},{"w":25.875,"a":34.5,"e":0.124},{"w":26.125,"a":34.5,"e":0.132},{"w":26.375,"a":34.5,"e":0.139},{"w":26.625,"a":34.5,"e":0.147},{"w":26.875,"a":34.5,"e":0.153},{"w":27.125,"a":34.5,"e":0.160},{"w":27.375,"a":34.5,"e":0.165},{"w":27.625,"a":34.5,"e":0.170},{"w":27.875,"a":34.5,"e":0.175},{"w":28.125,"a":34.5,"e":0.179},{"w":28.375,"a":34.5,"e":0.182},{"w":28.625,"a":34.5,"e":0.187},{"w":28.875,"a":34.5,"e":0.192},
{"w":17.125,"a":31.5,"e":0.028},{"w":17.375,"a":31.5,"e":0.028},{"w":17.625,"a":31.5,"e":0.028},{"w":17.875,"a":31.5,"e":0.026},{"w":18.125,"a":31.5,"e":0.025},{"w":18.375,"a":31.5,"e":0.022},{"w":18.625,"a":31.5,"e":0.020},{"w":18.875,"a":31.5,"e":0.018},{"w":19.125,"a":31.5,"e":0.016},{"w":19.375,"a":31.5,"e":0.014},{"w":19.625,"a":31.5,"e":0.012},{"w":19.875,"a":31.5,"e":0.010},{"w":20.125,"a":31.5,"e":0.008},{"w":20.375,"a":31.5,"e":0.006},{"w":20.625,"a":31.5,"e":0.005},{"w":20.875,"a":31.5,"e":0.004},{"w":21.125,"a":31.5,"e":0.005},{"w":21.375,"a":31.5,"e":0.006},{"w":21.625,"a":31.5,"e":0.009},{"w":21.875,"a":31.5,"e":0.012},{"w":22.125,"a":31.5,"e":0.015},{"w":22.375,"a":31.5,"e":0.020},{"w":22.625,"a":31.5,"e":0.023},{"w":22.875,"a":31.5,"e":0.027},
{"w":23.125,"a":31.5,"e":0.030},{"w":23.375,"a":31.5,"e":0.035},{"w":23.625,"a":31.5,"e":0.042},{"w":23.875,"a":31.5,"e":0.050},{"w":24.125,"a":31.5,"e":0.060},{"w":24.375,"a":31.5,"e":0.070},{"w":24.625,"a":31.5,"e":0.081},{"w":24.875,"a":31.5,"e":0.090},{"w":25.125,"a":31.5,"e":0.099},{"w":25.375,"a":31.5,"e":0.107},{"w":25.625,"a":31.5,"e":0.115},{"w":25.875,"a":31.5,"e":0.122},{"w":26.125,"a":31.5,"e":0.129},{"w":26.375,"a":31.5,"e":0.137},{"w":26.625,"a":31.5,"e":0.144},{"w":26.875,"a":31.5,"e":0.150},{"w":27.125,"a":31.5,"e":0.156},{"w":27.375,"a":31.5,"e":0.162},{"w":27.625,"a":31.5,"e":0.166},{"w":27.875,"a":31.5,"e":0.171},{"w":28.125,"a":31.5,"e":0.174},{"w":28.375,"a":31.5,"e":0.178},{"w":28.625,"a":31.5,"e":0.182},{"w":28.875,"a":31.5,"e":0.187},
{"w":17.125,"a":28.5,"e":0.027},{"w":17.375,"a":28.5,"e":0.027},{"w":17.625,"a":28.5,"e":0.027},{"w":17.875,"a":28.5,"e":0.026},{"w":18.125,"a":28.5,"e":0.024},{"w":18.375,"a":28.5,"e":0.022},{"w":18.625,"a":28.5,"e":0.020},{"w":18.875,"a":28.5,"e":0.017},{"w":19.125,"a":28.5,"e":0.016},{"w":19.375,"a":28.5,"e":0.014},{"w":19.625,"a":28.5,"e":0.012},{"w":19.875,"a":28.5,"e":0.010},{"w":20.125,"a":28.5,"e":0.008},{"w":20.375,"a":28.5,"e":0.006},{"w":20.625,"a":28.5,"e":0.005},{"w":20.875,"a":28.5,"e":0.004},{"w":21.125,"a":28.5,"e":0.005},{"w":21.375,"a":28.5,"e":0.006},{"w":21.625,"a":28.5,"e":0.009},{"w":21.875,"a":28.5,"e":0.011},{"w":22.125,"a":28.5,"e":0.015},{"w":22.375,"a":28.5,"e":0.019},{"w":22.625,"a":28.5,"e":0.023},{"w":22.875,"a":28.5,"e":0.026},
{"w":23.125,"a":28.5,"e":0.029},{"w":23.375,"a":28.5,"e":0.034},{"w":23.625,"a":28.5,"e":0.041},{"w":23.875,"a":28.5,"e":0.049},{"w":24.125,"a":28.5,"e":0.058},{"w":24.375,"a":28.5,"e":0.069},{"w":24.625,"a":28.5,"e":0.079},{"w":24.875,"a":28.5,"e":0.088},{"w":25.125,"a":28.5,"e":0.096},{"w":25.375,"a":28.5,"e":0.105},{"w":25.625,"a":28.5,"e":0.112},{"w":25.875,"a":28.5,"e":0.119},{"w":26.125,"a":28.5,"e":0.126},{"w":26.375,"a":28.5,"e":0.133},{"w":26.625,"a":28.5,"e":0.140},{"w":26.875,"a":28.5,"e":0.146},{"w":27.125,"a":28.5,"e":0.152},{"w":27.375,"a":28.5,"e":0.157},{"w":27.625,"a":28.5,"e":0.162},{"w":27.875,"a":28.5,"e":0.166},{"w":28.125,"a":28.5,"e":0.169},{"w":28.375,"a":28.5,"e":0.173},{"w":28.625,"a":28.5,"e":0.177},{"w":28.875,"a":28.5,"e":0.181},
{"w":17.125,"a":25.5,"e":0.026},{"w":17.375,"a":25.5,"e":0.026},{"w":17.625,"a":25.5,"e":0.026},{"w":17.875,"a":25.5,"e":0.025},{"w":18.125,"a":25.5,"e":0.024},{"w":18.375,"a":25.5,"e":0.021},{"w":18.625,"a":25.5,"e":0.020},{"w":18.875,"a":25.5,"e":0.017},{"w":19.125,"a":25.5,"e":0.015},{"w":19.375,"a":25.5,"e":0.014},{"w":19.625,"a":25.5,"e":0.012},{"w":19.875,"a":25.5,"e":0.009},{"w":20.125,"a":25.5,"e":0.008},{"w":20.375,"a":25.5,"e":0.006},{"w":20.625,"a":25.5,"e":0.005},{"w":20.875,"a":25.5,"e":0.004},{"w":21.125,"a":25.5,"e":0.005},{"w":21.375,"a":25.5,"e":0.006},{"w":21.625,"a":25.5,"e":0.009},{"w":21.875,"a":25.5,"e":0.011},{"w":22.125,"a":25.5,"e":0.014},{"w":22.375,"a":25.5,"e":0.019},{"w":22.625,"a":25.5,"e":0.022},{"w":22.875,"a":25.5,"e":0.026},
{"w":23.125,"a":25.5,"e":0.029},{"w":23.375,"a":25.5,"e":0.034},{"w":23.625,"a":25.5,"e":0.040},{"w":23.875,"a":25.5,"e":0.048},{"w":24.125,"a":25.5,"e":0.057},{"w":24.375,"a":25.5,"e":0.067},{"w":24.625,"a":25.5,"e":0.077},{"w":24.875,"a":25.5,"e":0.085},{"w":25.125,"a":25.5,"e":0.093},{"w":25.375,"a":25.5,"e":0.101},{"w":25.625,"a":25.5,"e":0.108},{"w":25.875,"a":25.5,"e":0.114},{"w":26.125,"a":25.5,"e":0.120},{"w":26.375,"a":25.5,"e":0.127},{"w":26.625,"a":25.5,"e":0.133},{"w":26.875,"a":25.5,"e":0.139},{"w":27.125,"a":25.5,"e":0.144},{"w":27.375,"a":25.5,"e":0.149},{"w":27.625,"a":25.5,"e":0.153},{"w":27.875,"a":25.5,"e":0.156},{"w":28.125,"a":25.5,"e":0.159},{"w":28.375,"a":25.5,"e":0.162},{"w":28.625,"a":25.5,"e":0.165},{"w":28.875,"a":25.5,"e":0.169},
{"w":17.125,"a":22.5,"e":0.025},{"w":17.375,"a":22.5,"e":0.025},{"w":17.625,"a":22.5,"e":0.025},{"w":17.875,"a":22.5,"e":0.024},{"w":18.125,"a":22.5,"e":0.023},{"w":18.375,"a":22.5,"e":0.021},{"w":18.625,"a":22.5,"e":0.019},{"w":18.875,"a":22.5,"e":0.016},{"w":19.125,"a":22.5,"e":0.015},{"w":19.375,"a":22.5,"e":0.013},{"w":19.625,"a":22.5,"e":0.011},{"w":19.875,"a":22.5,"e":0.009},{"w":20.125,"a":22.5,"e":0.007},{"w":20.375,"a":22.5,"e":0.006},{"w":20.625,"a":22.5,"e":0.005},{"w":20.875,"a":22.5,"e":0.004},{"w":21.125,"a":22.5,"e":0.005},{"w":21.375,"a":22.5,"e":0.006},{"w":21.625,"a":22.5,"e":0.008},{"w":21.875,"a":22.5,"e":0.011},{"w":22.125,"a":22.5,"e":0.014},{"w":22.375,"a":22.5,"e":0.018},{"w":22.625,"a":22.5,"e":0.021},{"w":22.875,"a":22.5,"e":0.025},
{"w":23.125,"a":22.5,"e":0.028},{"w":23.375,"a":22.5,"e":0.032},{"w":23.625,"a":22.5,"e":0.038},{"w":23.875,"a":22.5,"e":0.046},{"w":24.125,"a":22.5,"e":0.054},{"w":24.375,"a":22.5,"e":0.063},{"w":24.625,"a":22.5,"e":0.073},{"w":24.875,"a":22.5,"e":0.080},{"w":25.125,"a":22.5,"e":0.088},{"w":25.375,"a":22.5,"e":0.095},{"w":25.625,"a":22.5,"e":0.101},{"w":25.875,"a":22.5,"e":0.106},{"w":26.125,"a":22.5,"e":0.112},{"w":26.375,"a":22.5,"e":0.118},{"w":26.625,"a":22.5,"e":0.124},{"w":26.875,"a":22.5,"e":0.128},{"w":27.125,"a":22.5,"e":0.133},{"w":27.375,"a":22.5,"e":0.137},{"w":27.625,"a":22.5,"e":0.140},{"w":27.875,"a":22.5,"e":0.143},{"w":28.125,"a":22.5,"e":0.145},{"w":28.375,"a":22.5,"e":0.147},{"w":28.625,"a":22.5,"e":0.149},{"w":28.875,"a":22.5,"e":0.152},
{"w":17.125,"a":19.5,"e":0.024},{"w":17.375,"a":19.5,"e":0.024},{"w":17.625,"a":19.5,"e":0.024},{"w":17.875,"a":19.5,"e":0.023},{"w":18.125,"a":19.5,"e":0.022},{"w":18.375,"a":19.5,"e":0.019},{"w":18.625,"a":19.5,"e":0.018},{"w":18.875,"a":19.5,"e":0.015},{"w":19.125,"a":19.5,"e":0.014},{"w":19.375,"a":19.5,"e":0.012},{"w":19.625,"a":19.5,"e":0.011},{"w":19.875,"a":19.5,"e":0.008},{"w":20.125,"a":19.5,"e":0.007},{"w":20.375,"a":19.5,"e":0.005},{"w":20.625,"a":19.5,"e":0.004},{"w":20.875,"a":19.5,"e":0.004},{"w":21.125,"a":19.5,"e":0.004},{"w":21.375,"a":19.5,"e":0.005},{"w":21.625,"a":19.5,"e":0.008},{"w":21.875,"a":19.5,"e":0.010},{"w":22.125,"a":19.5,"e":0.013},{"w":22.375,"a":19.5,"e":0.017},{"w":22.625,"a":19.5,"e":0.020},{"w":22.875,"a":19.5,"e":0.023},
{"w":23.125,"a":19.5,"e":0.026},{"w":23.375,"a":19.5,"e":0.030},{"w":23.625,"a":19.5,"e":0.036},{"w":23.875,"a":19.5,"e":0.042},{"w":24.125,"a":19.5,"e":0.050},{"w":24.375,"a":19.5,"e":0.058},{"w":24.625,"a":19.5,"e":0.066},{"w":24.875,"a":19.5,"e":0.072},{"w":25.125,"a":19.5,"e":0.078},{"w":25.375,"a":19.5,"e":0.084},{"w":25.625,"a":19.5,"e":0.089},{"w":25.875,"a":19.5,"e":0.093},{"w":26.125,"a":19.5,"e":0.098},{"w":26.375,"a":19.5,"e":0.102},{"w":26.625,"a":19.5,"e":0.106},{"w":26.875,"a":19.5,"e":0.110},{"w":27.125,"a":19.5,"e":0.113},{"w":27.375,"a":19.5,"e":0.115},{"w":27.625,"a":19.5,"e":0.116},{"w":27.875,"a":19.5,"e":0.118},{"w":28.125,"a":19.5,"e":0.118},{"w":28.375,"a":19.5,"e":0.119},{"w":28.625,"a":19.5,"e":0.120},{"w":28.875,"a":19.5,"e":0.121},
{"w":17.125,"a":16.5,"e":0.021},{"w":17.375,"a":16.5,"e":0.021},{"w":17.625,"a":16.5,"e":0.021},{"w":17.875,"a":16.5,"e":0.020},{"w":18.125,"a":16.5,"e":0.019},{"w":18.375,"a":16.5,"e":0.017},{"w":18.625,"a":16.5,"e":0.016},{"w":18.875,"a":16.5,"e":0.014},{"w":19.125,"a":16.5,"e":0.012},{"w":19.375,"a":16.5,"e":0.011},{"w":19.625,"a":16.5,"e":0.010},{"w":19.875,"a":16.5,"e":0.007},{"w":20.125,"a":16.5,"e":0.006},{"w":20.375,"a":16.5,"e":0.005},{"w":20.625,"a":16.5,"e":0.004},{"w":20.875,"a":16.5,"e":0.004},{"w":21.125,"a":16.5,"e":0.004},{"w":21.375,"a":16.5,"e":0.005},{"w":21.625,"a":16.5,"e":0.007},{"w":21.875,"a":16.5,"e":0.009},{"w":22.125,"a":16.5,"e":0.012},{"w":22.375,"a":16.5,"e":0.015},{"w":22.625,"a":16.5,"e":0.018},{"w":22.875,"a":16.5,"e":0.020},
{"w":23.125,"a":16.5,"e":0.023},{"w":23.375,"a":16.5,"e":0.026},{"w":23.625,"a":16.5,"e":0.031},{"w":23.875,"a":16.5,"e":0.037},{"w":24.125,"a":16.5,"e":0.043},{"w":24.375,"a":16.5,"e":0.050},{"w":24.625,"a":16.5,"e":0.057},{"w":24.875,"a":16.5,"e":0.062},{"w":25.125,"a":16.5,"e":0.067},{"w":25.375,"a":16.5,"e":0.071},{"w":25.625,"a":16.5,"e":0.075},{"w":25.875,"a":16.5,"e":0.078},{"w":26.125,"a":16.5,"e":0.081},{"w":26.375,"a":16.5,"e":0.084},{"w":26.625,"a":16.5,"e":0.087},{"w":26.875,"a":16.5,"e":0.089},{"w":27.125,"a":16.5,"e":0.091},{"w":27.375,"a":16.5,"e":0.092},{"w":27.625,"a":16.5,"e":0.093},{"w":27.875,"a":16.5,"e":0.093},{"w":28.125,"a":16.5,"e":0.093},{"w":28.375,"a":16.5,"e":0.092},{"w":28.625,"a":16.5,"e":0.092},{"w":28.875,"a":16.5,"e":0.092},
{"w":17.125,"a":13.5,"e":0.016},{"w":17.375,"a":13.5,"e":0.016},{"w":17.625,"a":13.5,"e":0.016},{"w":17.875,"a":13.5,"e":0.015},{"w":18.125,"a":13.5,"e":0.014},{"w":18.375,"a":13.5,"e":0.013},{"w":18.625,"a":13.5,"e":0.012},{"w":18.875,"a":13.5,"e":0.010},{"w":19.125,"a":13.5,"e":0.009},{"w":19.375,"a":13.5,"e":0.008},{"w":19.625,"a":13.5,"e":0.007},{"w":19.875,"a":13.5,"e":0.006},{"w":20.125,"a":13.5,"e":0.005},{"w":20.375,"a":13.5,"e":0.005},{"w":20.625,"a":13.5,"e":0.005},{"w":20.875,"a":13.5,"e":0.006},{"w":21.125,"a":13.5,"e":0.007},{"w":21.375,"a":13.5,"e":0.008},{"w":21.625,"a":13.5,"e":0.009},{"w":21.875,"a":13.5,"e":0.010},{"w":22.125,"a":13.5,"e":0.011},{"w":22.375,"a":13.5,"e":0.012},{"w":22.625,"a":13.5,"e":0.013},{"w":22.875,"a":13.5,"e":0.015},
{"w":23.125,"a":13.5,"e":0.017},{"w":23.375,"a":13.5,"e":0.019},{"w":23.625,"a":13.5,"e":0.023},{"w":23.875,"a":13.5,"e":0.027},{"w":24.125,"a":13.5,"e":0.031},{"w":24.375,"a":13.5,"e":0.036},{"w":24.625,"a":13.5,"e":0.040},{"w":24.875,"a":13.5,"e":0.044},{"w":25.125,"a":13.5,"e":0.047},{"w":25.375,"a":13.5,"e":0.050},{"w":25.625,"a":13.5,"e":0.052},{"w":25.875,"a":13.5,"e":0.054},{"w":26.125,"a":13.5,"e":0.056},{"w":26.375,"a":13.5,"e":0.057},{"w":26.625,"a":13.5,"e":0.059},{"w":26.875,"a":13.5,"e":0.059},{"w":27.125,"a":13.5,"e":0.060},{"w":27.375,"a":13.5,"e":0.060},{"w":27.625,"a":13.5,"e":0.060},{"w":27.875,"a":13.5,"e":0.059},{"w":28.125,"a":13.5,"e":0.058},{"w":28.375,"a":13.5,"e":0.057},{"w":28.625,"a":13.5,"e":0.056},{"w":28.875,"a":13.5,"e":0.055},
{"w":17.125,"a":10.5,"e":0.006},{"w":17.375,"a":10.5,"e":0.006},{"w":17.625,"a":10.5,"e":0.006},{"w":17.875,"a":10.5,"e":0.005},{"w":18.125,"a":10.5,"e":0.005},{"w":18.375,"a":10.5,"e":0.005},{"w":18.625,"a":10.5,"e":0.004},{"w":18.875,"a":10.5,"e":0.004},{"w":19.125,"a":10.5,"e":0.003},{"w":19.375,"a":10.5,"e":0.003},{"w":19.625,"a":10.5,"e":0.003},{"w":19.875,"a":10.5,"e":0.002},{"w":20.125,"a":10.5,"e":0.002},{"w":20.375,"a":10.5,"e":0.002},{"w":20.625,"a":10.5,"e":0.002},{"w":20.875,"a":10.5,"e":0.003},{"w":21.125,"a":10.5,"e":0.004},{"w":21.375,"a":10.5,"e":0.005},{"w":21.625,"a":10.5,"e":0.005},{"w":21.875,"a":10.5,"e":0.005},{"w":22.125,"a":10.5,"e":0.005},{"w":22.375,"a":10.5,"e":0.005},{"w":22.625,"a":10.5,"e":0.005},{"w":22.875,"a":10.5,"e":0.005},
{"w":23.125,"a":10.5,"e":0.006},{"w":23.375,"a":10.5,"e":0.007},{"w":23.625,"a":10.5,"e":0.008},{"w":23.875,"a":10.5,"e":0.010},{"w":24.125,"a":10.5,"e":0.011},{"w":24.375,"a":10.5,"e":0.013},{"w":24.625,"a":10.5,"e":0.015},{"w":24.875,"a":10.5,"e":0.016},{"w":25.125,"a":10.5,"e":0.017},{"w":25.375,"a":10.5,"e":0.018},{"w":25.625,"a":10.5,"e":0.019},{"w":25.875,"a":10.5,"e":0.019},{"w":26.125,"a":10.5,"e":0.020},{"w":26.375,"a":10.5,"e":0.021},{"w":26.625,"a":10.5,"e":0.021},{"w":26.875,"a":10.5,"e":0.021},{"w":27.125,"a":10.5,"e":0.022},{"w":27.375,"a":10.5,"e":0.022},{"w":27.625,"a":10.5,"e":0.022},{"w":27.875,"a":10.5,"e":0.021},{"w":28.125,"a":10.5,"e":0.021},{"w":28.375,"a":10.5,"e":0.021},{"w":28.625,"a":10.5,"e":0.020},{"w":28.875,"a":10.5,"e":0.020},
{"w":17.125,"a":7.5,"e":0.001},{"w":17.375,"a":7.5,"e":0.001},{"w":17.625,"a":7.5,"e":0.001},{"w":17.875,"a":7.5,"e":0.001},{"w":18.125,"a":7.5,"e":0.001},{"w":18.375,"a":7.5,"e":0.001},{"w":18.625,"a":7.5,"e":0.001},{"w":18.875,"a":7.5,"e":0.001},{"w":19.125,"a":7.5,"e":0.001},{"w":19.375,"a":7.5,"e":0.001},{"w":19.625,"a":7.5,"e":0.001},{"w":19.875,"a":7.5,"e":0.001},{"w":20.125,"a":7.5,"e":0.001},{"w":20.375,"a":7.5,"e":0.001},{"w":20.625,"a":7.5,"e":0.001},{"w":20.875,"a":7.5,"e":0.001},{"w":21.125,"a":7.5,"e":0.001},{"w":21.375,"a":7.5,"e":0.001},{"w":21.625,"a":7.5,"e":0.001},{"w":21.875,"a":7.5,"e":0.001},{"w":22.125,"a":7.5,"e":0.001},{"w":22.375,"a":7.5,"e":0.001},{"w":22.625,"a":7.5,"e":0.001},{"w":22.875,"a":7.5,"e":0.001},
{"w":23.125,"a":7.5,"e":0.001},{"w":23.375,"a":7.5,"e":0.001},{"w":23.625,"a":7.5,"e":0.001},{"w":23.875,"a":7.5,"e":0.001},{"w":24.125,"a":7.5,"e":0.002},{"w":24.375,"a":7.5,"e":0.002},{"w":24.625,"a":7.5,"e":0.002},{"w":24.875,"a":7.5,"e":0.002},{"w":25.125,"a":7.5,"e":0.002},{"w":25.375,"a":7.5,"e":0.002},{"w":25.625,"a":7.5,"e":0.002},{"w":25.875,"a":7.5,"e":0.002},{"w":26.125,"a":7.5,"e":0.002},{"w":26.375,"a":7.5,"e":0.002},{"w":26.625,"a":7.5,"e":0.002},{"w":26.875,"a":7.5,"e":0.002},{"w":27.125,"a":7.5,"e":0.002},{"w":27.375,"a":7.5,"e":0.002},{"w":27.625,"a":7.5,"e":0.002},{"w":27.875,"a":7.5,"e":0.002},{"w":28.125,"a":7.5,"e":0.002},{"w":28.375,"a":7.5,"e":0.002},{"w":28.625,"a":7.5,"e":0.002},{"w":28.875,"a":7.5,"e":0.002},
{"w":17.125,"a":4.5,"e":0.001},{"w":17.375,"a":4.5,"e":0.001},{"w":17.625,"a":4.5,"e":0.001},{"w":17.875,"a":4.5,"e":0.001},{"w":18.125,"a":4.5,"e":0.001},{"w":18.375,"a":4.5,"e":0.001},{"w":18.625,"a":4.5,"e":0.001},{"w":18.875,"a":4.5,"e":0.001},{"w":19.125,"a":4.5,"e":0.001},{"w":19.375,"a":4.5,"e":0.001},{"w":19.625,"a":4.5,"e":0.001},{"w":19.875,"a":4.5,"e":0.001},{"w":20.125,"a":4.5,"e":0.001},{"w":20.375,"a":4.5,"e":0.001},{"w":20.625,"a":4.5,"e":0.001},{"w":20.875,"a":4.5,"e":0.001},{"w":21.125,"a":4.5,"e":0.001},{"w":21.375,"a":4.5,"e":0.001},{"w":21.625,"a":4.5,"e":0.001},{"w":21.875,"a":4.5,"e":0.001},{"w":22.125,"a":4.5,"e":0.001},{"w":22.375,"a":4.5,"e":0.001},{"w":22.625,"a":4.5,"e":0.001},{"w":22.875,"a":4.5,"e":0.001},
{"w":23.125,"a":4.5,"e":0.001},{"w":23.375,"a":4.5,"e":0.001},{"w":23.625,"a":4.5,"e":0.001},{"w":23.875,"a":4.5,"e":0.001},{"w":24.125,"a":4.5,"e":0.001},{"w":24.375,"a":4.5,"e":0.001},{"w":24.625,"a":4.5,"e":0.001},{"w":24.875,"a":4.5,"e":0.001},{"w":25.125,"a":4.5,"e":0.001},{"w":25.375,"a":4.5,"e":0.001},{"w":25.625,"a":4.5,"e":0.001},{"w":25.875,"a":4.5,"e":0.001},{"w":26.125,"a":4.5,"e":0.001},{"w":26.375,"a":4.5,"e":0.001},{"w":26.625,"a":4.5,"e":0.001},{"w":26.875,"a":4.5,"e":0.001},{"w":27.125,"a":4.5,"e":0.001},{"w":27.375,"a":4.5,"e":0.001},{"w":27.625,"a":4.5,"e":0.001},{"w":27.875,"a":4.5,"e":0.001},{"w":28.125,"a":4.5,"e":0.001},{"w":28.375,"a":4.5,"e":0.001},{"w":28.625,"a":4.5,"e":0.001},{"w":28.875,"a":4.5,"e":0.001},
{"w":17.125,"a":1.5,"e":0.001},{"w":17.375,"a":1.5,"e":0.001},{"w":17.625,"a":1.5,"e":0.001},{"w":17.875,"a":1.5,"e":0.001},{"w":18.125,"a":1.5,"e":0.001},{"w":18.375,"a":1.5,"e":0.001},{"w":18.625,"a":1.5,"e":0.001},{"w":18.875,"a":1.5,"e":0.001},{"w":19.125,"a":1.5,"e":0.001},{"w":19.375,"a":1.5,"e":0.001},{"w":19.625,"a":1.5,"e":0.001},{"w":19.875,"a":1.5,"e":0.001},{"w":20.125,"a":1.5,"e":0.001},{"w":20.375,"a":1.5,"e":0.001},{"w":20.625,"a":1.5,"e":0.001},{"w":20.875,"a":1.5,"e":0.001},{"w":21.125,"a":1.5,"e":0.001},{"w":21.375,"a":1.5,"e":0.001},{"w":21.625,"a":1.5,"e":0.001},{"w":21.875,"a":1.5,"e":0.001},{"w":22.125,"a":1.5,"e":0.001},{"w":22.375,"a":1.5,"e":0.001},{"w":22.625,"a":1.5,"e":0.001},{"w":22.875,"a":1.5,"e":0.001},
{"w":23.125,"a":1.5,"e":0.001},{"w":23.375,"a":1.5,"e":0.001},{"w":23.625,"a":1.5,"e":0.001},{"w":23.875,"a":1.5,"e":0.001},{"w":24.125,"a":1.5,"e":0.001},{"w":24.375,"a":1.5,"e":0.001},{"w":24.625,"a":1.5,"e":0.001},{"w":24.875,"a":1.5,"e":0.001},{"w":25.125,"a":1.5,"e":0.001},{"w":25.375,"a":1.5,"e":0.001},{"w":25.625,"a":1.5,"e":0.001},{"w":25.875,"a":1.5,"e":0.001},{"w":26.125,"a":1.5,"e":0.001},{"w":26.375,"a":1.5,"e":0.001},{"w":26.625,"a":1.5,"e":0.001},{"w":26.875,"a":1.5,"e":0.001},{"w":27.125,"a":1.5,"e":0.001},{"w":27.375,"a":1.5,"e":0.001},{"w":27.625,"a":1.5,"e":0.001},{"w":27.875,"a":1.5,"e":0.001},{"w":28.125,"a":1.5,"e":0.001},{"w":28.375,"a":1.5,"e":0.001},{"w":28.625,"a":1.5,"e":0.001},{"w":28.875,"a":1.5,"e":0.001}
]},
"mark": {"type": "rect", "binSpacing": 0, "strokeWidth": 1},
"encoding": {
  "x": {"field": "w", "type": "quantitative", "bin": {"extent": [17, 29], "step": 0.25},
        "scale": {"domain": [17, 29], "nice": false, "zero": false},
        "axis": {"values": [17, 19, 21, 23, 25, 27, 29], "format": "d", "title": "Wavelength (nm)", "labelPadding": 9, "titlePadding": 12}},
  "y": {"field": "a", "type": "quantitative", "bin": {"extent": [0, 90], "step": 3},
        "scale": {"domain": [0, 90], "nice": false, "zero": false},
        "axis": {"values": [0, 15, 30, 45, 60, 75, 90], "format": "d", "title": "α (°)", "titleFontWeight": "normal", "titleFontSize": 26, "labelPadding": 7, "titlePadding": 10}},
  "color": {"aggregate": "mean", "field": "e", "type": "quantitative",
        "scale": {"type": "linear", "domain": [0, 0.03125, 0.0625, 0.09375, 0.125, 0.15625, 0.1875, 0.21875, 0.25],
                  "range": ["#000080", "#0000ff", "#0080ff", "#00ffff", "#00e845", "#ffff00", "#ff9a00", "#ff1000", "#800000"]},
        "legend": {"title": "Grating Efficiency %", "type": "gradient", "orient": "right", "direction": "vertical", "offset": 21,
                   "gradientLength": 348, "gradientThickness": 10, "gradientStrokeWidth": 0,
                   "values": [0, 0.05, 0.1, 0.15, 0.2, 0.25], "format": "~g",
                   "labelFont": "Liberation Sans", "labelFontSize": 26, "labelColor": "#262626", "labelOffset": 8,
                   "titleFont": "Liberation Sans", "titleFontSize": 28, "titleFontWeight": "bold", "titleColor": "#262626", "titleLimit": 600,
                   "titleOrient": "right", "titleAnchor": "middle", "titlePadding": 10,
                   "encode": {"labels": {"update": {"baseline": {"value": "middle"}}},
                              "title": {"update": {"angle": {"value": -90}, "align": {"value": "center"}, "baseline": {"value": "top"}}}}}},
  "stroke": {"aggregate": "max", "field": "e", "type": "quantitative", "legend": null,
        "scale": {"type": "linear", "domain": [0, 0.0312500001, 0.0625, 0.09375, 0.125, 0.15625, 0.1875, 0.21875, 0.2500001],
                  "range": ["#000080", "#0000ff", "#0080ff", "#00ffff", "#00e845", "#ffff00", "#ff9a00", "#ff1000", "#800000"]}}
}
}
